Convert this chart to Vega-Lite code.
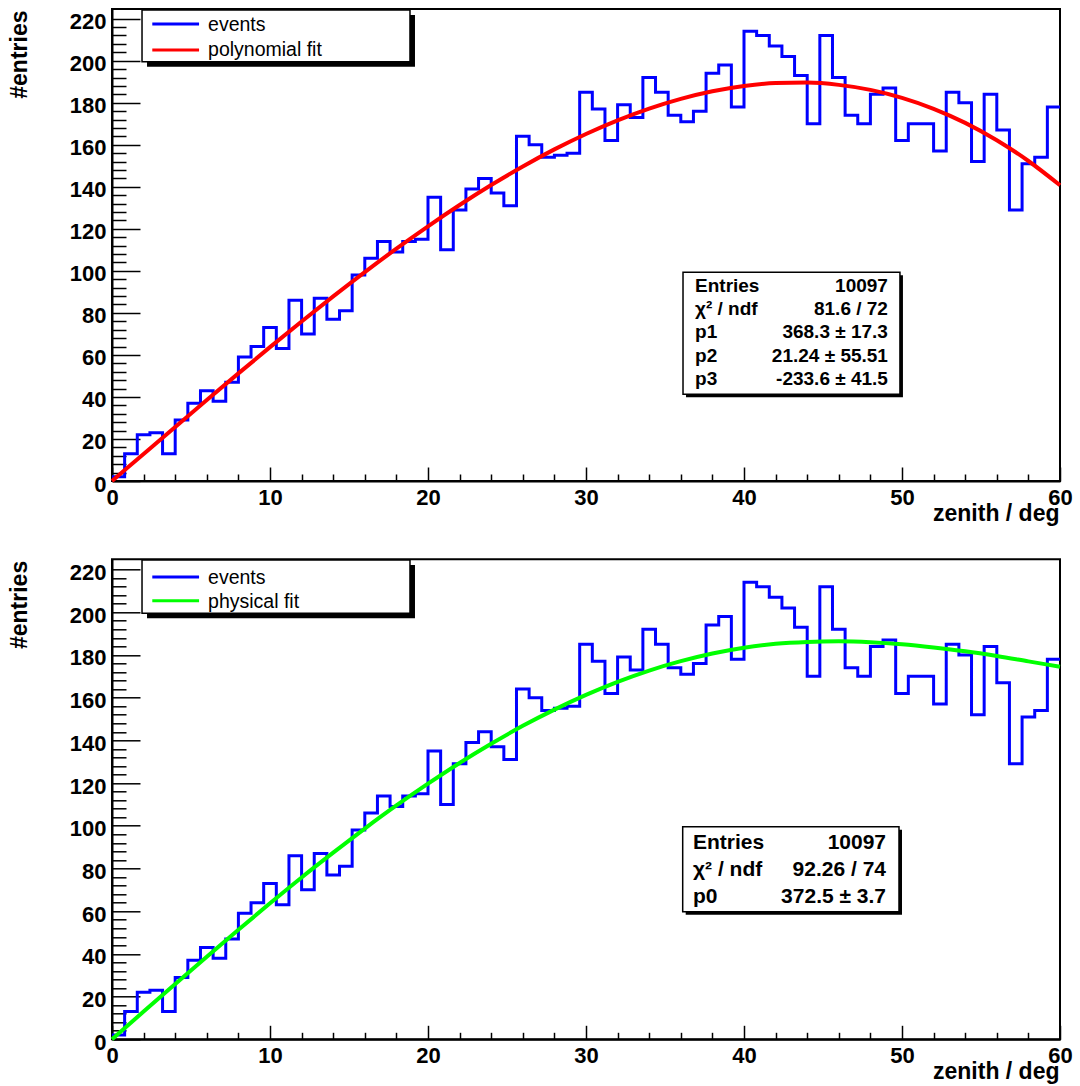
{
  "$schema": "https://vega.github.io/schema/vega-lite/v6.json",
  "background": "white",
  "padding": {"left": 7, "top": 8, "right": 0, "bottom": 0},
  "spacing": 78.3,
  "bounds": "flush",
  "config": {
    "font": "Liberation Sans",
    "view": {"stroke": "black", "strokeWidth": 2},
    "axis": {
      "grid": false,
      "domainColor": "black",
      "domainWidth": 2,
      "tickColor": "black",
      "tickWidth": 1.5,
      "tickCount": 200,
      "labelFont": "Liberation Sans",
      "labelFontWeight": "bold",
      "labelFontSize": 22,
      "labelColor": "black",
      "titleFont": "Liberation Sans",
      "titleFontWeight": "bold",
      "titleFontSize": 23,
      "titleColor": "black",
      "labelOverlap": false,
      "labelFlush": false,
      "labelBound": false
    }
  },
  "datasets": {
    "hist": [
      {"lo":0,"hi":0.8,"n":2},{"lo":0.8,"hi":1.6,"n":13},{"lo":1.6,"hi":2.4,"n":22},{"lo":2.4,"hi":3.2,"n":23},{"lo":3.2,"hi":4,"n":13},
      {"lo":4,"hi":4.8,"n":29},{"lo":4.8,"hi":5.6,"n":37},{"lo":5.6,"hi":6.4,"n":43},{"lo":6.4,"hi":7.2,"n":38},{"lo":7.2,"hi":8,"n":47},
      {"lo":8,"hi":8.8,"n":59},{"lo":8.8,"hi":9.6,"n":64},{"lo":9.6,"hi":10.4,"n":73},{"lo":10.4,"hi":11.2,"n":63},{"lo":11.2,"hi":12,"n":86},
      {"lo":12,"hi":12.8,"n":70},{"lo":12.8,"hi":13.6,"n":87},{"lo":13.6,"hi":14.4,"n":77},{"lo":14.4,"hi":15.2,"n":81},{"lo":15.2,"hi":16,"n":98},
      {"lo":16,"hi":16.8,"n":106},{"lo":16.8,"hi":17.6,"n":114},{"lo":17.6,"hi":18.4,"n":109},{"lo":18.4,"hi":19.2,"n":114},{"lo":19.2,"hi":20,"n":115},
      {"lo":20,"hi":20.8,"n":135},{"lo":20.8,"hi":21.6,"n":110},{"lo":21.6,"hi":22.4,"n":129},{"lo":22.4,"hi":23.2,"n":139},{"lo":23.2,"hi":24,"n":144},
      {"lo":24,"hi":24.8,"n":137},{"lo":24.8,"hi":25.6,"n":131},{"lo":25.6,"hi":26.4,"n":164},{"lo":26.4,"hi":27.2,"n":160},{"lo":27.2,"hi":28,"n":154},
      {"lo":28,"hi":28.8,"n":155},{"lo":28.8,"hi":29.6,"n":156},{"lo":29.6,"hi":30.4,"n":185},{"lo":30.4,"hi":31.2,"n":177},{"lo":31.2,"hi":32,"n":162},
      {"lo":32,"hi":32.8,"n":179},{"lo":32.8,"hi":33.6,"n":173},{"lo":33.6,"hi":34.4,"n":192},{"lo":34.4,"hi":35.2,"n":185},{"lo":35.2,"hi":36,"n":174},
      {"lo":36,"hi":36.8,"n":171},{"lo":36.8,"hi":37.6,"n":176},{"lo":37.6,"hi":38.4,"n":194},{"lo":38.4,"hi":39.2,"n":198},{"lo":39.2,"hi":40,"n":178},
      {"lo":40,"hi":40.8,"n":214},{"lo":40.8,"hi":41.6,"n":212},{"lo":41.6,"hi":42.4,"n":207},{"lo":42.4,"hi":43.2,"n":202},{"lo":43.2,"hi":44,"n":193},
      {"lo":44,"hi":44.8,"n":170},{"lo":44.8,"hi":45.6,"n":212},{"lo":45.6,"hi":46.4,"n":192},{"lo":46.4,"hi":47.2,"n":174},{"lo":47.2,"hi":48,"n":170},
      {"lo":48,"hi":48.8,"n":184},{"lo":48.8,"hi":49.6,"n":187},{"lo":49.6,"hi":50.4,"n":162},{"lo":50.4,"hi":51.2,"n":170},{"lo":51.2,"hi":52,"n":170},
      {"lo":52,"hi":52.8,"n":157},{"lo":52.8,"hi":53.6,"n":185},{"lo":53.6,"hi":54.4,"n":180},{"lo":54.4,"hi":55.2,"n":152},{"lo":55.2,"hi":56,"n":184},
      {"lo":56,"hi":56.8,"n":167},{"lo":56.8,"hi":57.6,"n":129},{"lo":57.6,"hi":58.4,"n":151},{"lo":58.4,"hi":59.2,"n":154},{"lo":59.2,"hi":60,"n":178}
    ],
    "poly": [
      {"x":0,"f":0},{"x":2,"f":12.87},{"x":4,"f":25.74},{"x":6,"f":38.53},{"x":8,"f":51.2},{"x":10,"f":63.69},
      {"x":12,"f":75.92},{"x":14,"f":87.85},{"x":16,"f":99.42},{"x":18,"f":110.56},{"x":20,"f":121.21},
      {"x":22,"f":131.32},{"x":24,"f":140.83},{"x":26,"f":149.67},{"x":28,"f":157.79},{"x":30,"f":165.13},
      {"x":32,"f":171.63},{"x":34,"f":177.22},{"x":36,"f":181.85},{"x":38,"f":185.46},{"x":40,"f":187.99},
      {"x":42,"f":189.38},{"x":44,"f":189.57},{"x":46,"f":188.49},{"x":48,"f":186.1},{"x":50,"f":182.33},
      {"x":52,"f":177.12},{"x":54,"f":170.42},{"x":56,"f":162.15},{"x":58,"f":152.27},{"x":60,"f":140.71}
    ],
    "phys": [
      {"x":0,"f":0},{"x":2,"f":13},{"x":4,"f":25.9},{"x":6,"f":38.7},{"x":8,"f":51.3},{"x":10,"f":63.7},
      {"x":12,"f":75.8},{"x":14,"f":87.4},{"x":16,"f":98.7},{"x":18,"f":109.5},{"x":20,"f":119.7},
      {"x":22,"f":129.4},{"x":24,"f":138.4},{"x":26,"f":146.8},{"x":28,"f":154.4},{"x":30,"f":161.3},
      {"x":32,"f":167.4},{"x":34,"f":172.7},{"x":36,"f":177.1},{"x":38,"f":180.7},{"x":40,"f":183.4},
      {"x":42,"f":185.2},{"x":44,"f":186.1},{"x":46,"f":186.4},{"x":48,"f":186},{"x":50,"f":185},
      {"x":52,"f":183.5},{"x":54,"f":181.7},{"x":56,"f":179.5},{"x":58,"f":177},{"x":60,"f":174.5}
    ],
    "one": [{}]
  },
  "vconcat": [
    {
      "width": 948,
      "height": 472,
      "layer": [
        {
          "data": {"name": "hist"},
          "transform": [
            {"fold": ["lo", "hi"], "as": ["edge", "xe"]},
            {"window": [{"op": "row_number", "as": "idx"}]}
          ],
          "mark": {"type": "line", "color": "#0000ff", "strokeWidth": 3},
          "encoding": {
            "x": {
              "field": "xe", "type": "quantitative",
              "scale": {"domain": [0, 60], "nice": false, "zero": false},
              "axis": {
                "title": "zenith / deg",
                "values": [0,2,4,6,8,10,12,14,16,18,20,22,24,26,28,30,32,34,36,38,40,42,44,46,48,50,52,54,56,58,60],
                "tickCount": 200,
                "format": "d",
                "labelExpr": "datum.value % 10 === 0 ? datum.label : ''",
                "tickSize": {"condition": {"test": "datum.value % 10 === 0", "value": -14}, "value": -7},
                "labelPadding": 20,
                "titleAnchor": "end", "titleAlign": "right", "titleX": 947, "titleY": 39, "titleBaseline": "alphabetic"
              }
            },
            "y": {
              "field": "n", "type": "quantitative",
              "scale": {"domain": [0, 224.6], "nice": false},
              "axis": {
                "title": "#entries",
                "values": [0,4,8,12,16,20,24,28,32,36,40,44,48,52,56,60,64,68,72,76,80,84,88,92,96,100,104,108,112,116,120,124,128,132,136,140,144,148,152,156,160,164,168,172,176,180,184,188,192,196,200,204,208,212,216,220],
                "tickCount": 200,
                "format": "d",
                "labelExpr": "datum.value % 20 === 0 ? datum.label : ''",
                "tickSize": {"condition": {"test": "datum.value % 20 === 0", "value": -28}, "value": -14},
                "labelPadding": 34,
                "labelOffset": 3,
                "titleAnchor": "end", "titleAlign": "right", "titleAngle": 270, "titleX": -86, "titleY": 1, "titleBaseline": "alphabetic"
              }
            },
            "order": {"field": "idx", "type": "quantitative"}
          }
        },
        {
          "data": {"name": "poly"},
          "mark": {"type": "line", "color": "#ff0000", "strokeWidth": 4, "interpolate": "monotone"},
          "encoding": {
            "x": {"field": "x", "type": "quantitative"},
            "y": {"field": "f", "type": "quantitative"}
          }
        },
        {
          "data": {"name": "one"},
          "mark": {"type": "rect", "fill": "black", "xOffset": 5, "x2Offset": 5, "yOffset": 5, "y2Offset": 5},
          "encoding": {
            "x": {"datum": 1.9}, "x2": {"datum": 18.86},
            "y": {"datum": 224.1}, "y2": {"datum": 199.5}
          }
        },
        {
          "data": {"name": "one"},
          "mark": {"type": "rect", "fill": "white", "stroke": "black", "strokeWidth": 1.5},
          "encoding": {
            "x": {"datum": 1.9}, "x2": {"datum": 18.86},
            "y": {"datum": 224.1}, "y2": {"datum": 199.5}
          }
        },
        {
          "data": {"name": "one"},
          "mark": {"type": "rule", "color": "#0000ff", "strokeWidth": 3},
          "encoding": {
            "x": {"datum": 2.55}, "x2": {"datum": 5.51},
            "y": {"datum": 217.5}
          }
        },
        {
          "data": {"name": "one"},
          "mark": {"type": "rule", "color": "#ff0000", "strokeWidth": 3},
          "encoding": {
            "x": {"datum": 2.55}, "x2": {"datum": 5.51},
            "y": {"datum": 205.1}
          }
        },
        {
          "data": {"name": "one"},
          "mark": {"type": "text", "text": "events", "align": "left", "baseline": "alphabetic", "fontSize": 19.5, "color": "black"},
          "encoding": {"x": {"datum": 6.08}, "y": {"datum": 214.1}}
        },
        {
          "data": {"name": "one"},
          "mark": {"type": "text", "text": "polynomial fit", "align": "left", "baseline": "alphabetic", "fontSize": 19.5, "color": "black"},
          "encoding": {"x": {"datum": 6.08}, "y": {"datum": 202.4}}
        },
        {
          "data": {"name": "one"},
          "mark": {"type": "rect", "fill": "black", "xOffset": 3, "x2Offset": 3, "yOffset": 3, "y2Offset": 3},
          "encoding": {
            "x": {"datum": 36.14}, "x2": {"datum": 49.87},
            "y": {"datum": 99.38}, "y2": {"datum": 41.29}
          }
        },
        {
          "data": {"name": "one"},
          "mark": {"type": "rect", "fill": "white", "stroke": "black", "strokeWidth": 1.5},
          "encoding": {
            "x": {"datum": 36.14}, "x2": {"datum": 49.87},
            "y": {"datum": 99.38}, "y2": {"datum": 41.29}
          }
        },
        {
          "data": {"name": "one"},
          "mark": {"type": "text", "text": ["Entries", "χ² / ndf", "p1", "p2", "p3"], "align": "left", "baseline": "alphabetic", "fontSize": 19, "fontWeight": "bold", "lineHeight": 23.3, "color": "black"},
          "encoding": {"x": {"datum": 36.9}, "y": {"datum": 90}}
        },
        {
          "data": {"name": "one"},
          "mark": {"type": "text", "text": ["10097", "81.6 / 72", "368.3 ± 17.3", "21.24 ± 55.51", "-233.6 ± 41.5"], "align": "right", "baseline": "alphabetic", "fontSize": 19, "fontWeight": "bold", "lineHeight": 23.3, "color": "black"},
          "encoding": {"x": {"datum": 49.11}, "y": {"datum": 90}}
        }
      ]
    },
    {
      "width": 948,
      "height": 480,
      "layer": [
        {
          "data": {"name": "hist"},
          "transform": [
            {"fold": ["lo", "hi"], "as": ["edge", "xe"]},
            {"window": [{"op": "row_number", "as": "idx"}]}
          ],
          "mark": {"type": "line", "color": "#0000ff", "strokeWidth": 3},
          "encoding": {
            "x": {
              "field": "xe", "type": "quantitative",
              "scale": {"domain": [0, 60], "nice": false, "zero": false},
              "axis": {
                "title": "zenith / deg",
                "values": [0,2,4,6,8,10,12,14,16,18,20,22,24,26,28,30,32,34,36,38,40,42,44,46,48,50,52,54,56,58,60],
                "tickCount": 200,
                "format": "d",
                "labelExpr": "datum.value % 10 === 0 ? datum.label : ''",
                "tickSize": {"condition": {"test": "datum.value % 10 === 0", "value": -14}, "value": -7},
                "labelPadding": 20,
                "titleAnchor": "end", "titleAlign": "right", "titleX": 947, "titleY": 39, "titleBaseline": "alphabetic"
              }
            },
            "y": {
              "field": "n", "type": "quantitative",
              "scale": {"domain": [0, 224.8], "nice": false},
              "axis": {
                "title": "#entries",
                "values": [0,4,8,12,16,20,24,28,32,36,40,44,48,52,56,60,64,68,72,76,80,84,88,92,96,100,104,108,112,116,120,124,128,132,136,140,144,148,152,156,160,164,168,172,176,180,184,188,192,196,200,204,208,212,216,220],
                "tickCount": 200,
                "format": "d",
                "labelExpr": "datum.value % 20 === 0 ? datum.label : ''",
                "tickSize": {"condition": {"test": "datum.value % 20 === 0", "value": -28}, "value": -14},
                "labelPadding": 34,
                "labelOffset": 3,
                "titleAnchor": "end", "titleAlign": "right", "titleAngle": 270, "titleX": -86, "titleY": 1, "titleBaseline": "alphabetic"
              }
            },
            "order": {"field": "idx", "type": "quantitative"}
          }
        },
        {
          "data": {"name": "phys"},
          "mark": {"type": "line", "color": "#00ff00", "strokeWidth": 4, "interpolate": "monotone"},
          "encoding": {
            "x": {"field": "x", "type": "quantitative"},
            "y": {"field": "f", "type": "quantitative"}
          }
        },
        {
          "data": {"name": "one"},
          "mark": {"type": "rect", "fill": "black", "xOffset": 5, "x2Offset": 5, "yOffset": 5, "y2Offset": 5},
          "encoding": {
            "x": {"datum": 1.9}, "x2": {"datum": 18.86},
            "y": {"datum": 224.5}, "y2": {"datum": 199.5}
          }
        },
        {
          "data": {"name": "one"},
          "mark": {"type": "rect", "fill": "white", "stroke": "black", "strokeWidth": 1.5},
          "encoding": {
            "x": {"datum": 1.9}, "x2": {"datum": 18.86},
            "y": {"datum": 224.5}, "y2": {"datum": 199.5}
          }
        },
        {
          "data": {"name": "one"},
          "mark": {"type": "rule", "color": "#0000ff", "strokeWidth": 3},
          "encoding": {
            "x": {"datum": 2.55}, "x2": {"datum": 5.51},
            "y": {"datum": 216.5}
          }
        },
        {
          "data": {"name": "one"},
          "mark": {"type": "rule", "color": "#00ff00", "strokeWidth": 3},
          "encoding": {
            "x": {"datum": 2.55}, "x2": {"datum": 5.51},
            "y": {"datum": 205.4}
          }
        },
        {
          "data": {"name": "one"},
          "mark": {"type": "text", "text": "events", "align": "left", "baseline": "alphabetic", "fontSize": 19.5, "color": "black"},
          "encoding": {"x": {"datum": 6.08}, "y": {"datum": 213.2}}
        },
        {
          "data": {"name": "one"},
          "mark": {"type": "text", "text": "physical fit", "align": "left", "baseline": "alphabetic", "fontSize": 19.5, "color": "black"},
          "encoding": {"x": {"datum": 6.08}, "y": {"datum": 202.2}}
        },
        {
          "data": {"name": "one"},
          "mark": {"type": "rect", "fill": "black", "xOffset": 3, "x2Offset": 3, "yOffset": 3, "y2Offset": 3},
          "encoding": {
            "x": {"datum": 36.12}, "x2": {"datum": 49.81},
            "y": {"datum": 99.58}, "y2": {"datum": 59.77}
          }
        },
        {
          "data": {"name": "one"},
          "mark": {"type": "rect", "fill": "white", "stroke": "black", "strokeWidth": 1.5},
          "encoding": {
            "x": {"datum": 36.12}, "x2": {"datum": 49.81},
            "y": {"datum": 99.58}, "y2": {"datum": 59.77}
          }
        },
        {
          "data": {"name": "one"},
          "mark": {"type": "text", "text": ["Entries", "χ² / ndf", "p0"], "align": "left", "baseline": "alphabetic", "fontSize": 21, "fontWeight": "bold", "lineHeight": 27, "color": "black"},
          "encoding": {"x": {"datum": 36.77}, "y": {"datum": 89}}
        },
        {
          "data": {"name": "one"},
          "mark": {"type": "text", "text": ["10097", "92.26 / 74", "372.5 ± 3.7"], "align": "right", "baseline": "alphabetic", "fontSize": 21, "fontWeight": "bold", "lineHeight": 27, "color": "black"},
          "encoding": {"x": {"datum": 48.99}, "y": {"datum": 89}}
        }
      ]
    }
  ]
}
